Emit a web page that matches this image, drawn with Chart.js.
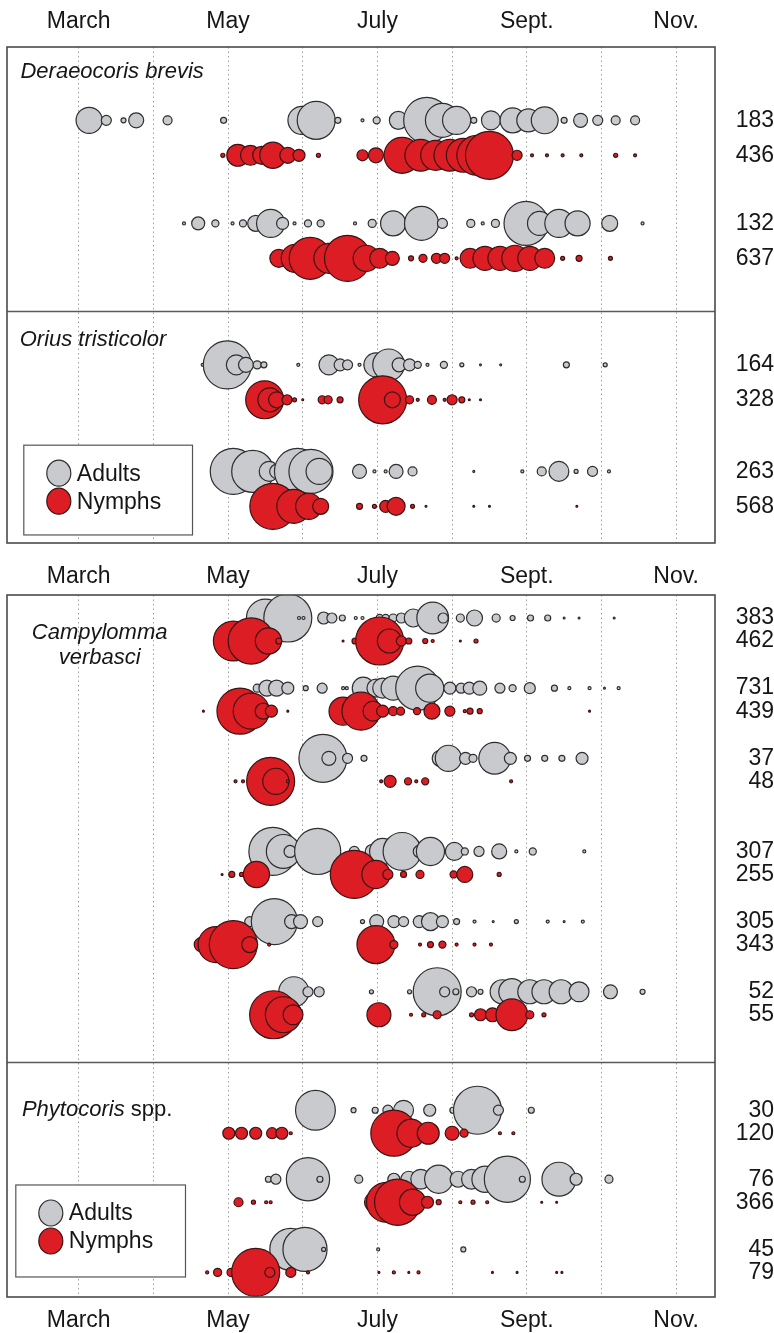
<!DOCTYPE html>
<html>
<head>
<meta charset="utf-8">
<script src="https://cdn.jsdelivr.net/npm/chart.js@4.4.1/dist/chart.umd.min.js"></script>
<style>
  html, body { margin: 0; padding: 0; background: #ffffff; }
  canvas { position: absolute; left: 0; }
</style>
</head>
<body>
<canvas id="panelTop" width="774" height="550" style="top:0px"></canvas>
<canvas id="panelBottom" width="774" height="783" style="top:550px"></canvas>
<script>
// ---- axis labels -------------------------------------------------------
// x values are months (3 = 1 March ... 11 = 1 November)
const monthTicks = [3, 4, 5, 6, 7, 8, 9, 10, 11];
const monthLabels = { 3: 'March', 5: 'May', 7: 'July', 9: 'Sept.', 11: 'Nov.' };

// ---- season totals (insects counted per orchard row) -----------------
const deraeocorisTotals = [183, 436, 132, 637];
const oriusTotals = [164, 328, 263, 568];
const campylommaTotals = [383, 462, 731, 439, 37, 48, 307, 255, 305, 343, 52, 55];
const phytocorisTotals = [30, 120, 76, 366, 45, 79];

// ---- samples: [month, relative abundance] -----------------------------
const deraeocorisAdults1 = [[3.14,19],[3.37,2.8],[3.6,0.7],[3.77,6.25],[4.19,2.25],[4.94,1],[5.99,22],[6.18,40],[6.47,1],[6.8,0.25],[6.99,1.4],[7.28,9],[7.66,59],[7.87,32],[8.06,22],[8.29,1],[8.52,10],[8.81,17.4],[9.02,14.7],[9.24,20],[9.5,1],[9.72,5.4],[9.95,2.8],[10.19,2.25],[10.45,2.25]];
const deraeocorisNymphs1 = [[4.93,0.45],[5.13,13.4],[5.3,11],[5.45,9],[5.6,19],[5.8,7.1],[5.95,4],[6.21,0.45],[6.8,3.4],[6.98,6.25],[7.33,36],[7.58,28],[7.78,25],[7.97,28],[8.15,32],[8.33,44],[8.5,64],[8.87,2.8],[9.07,0.25],[9.27,0.25],[9.48,0.25],[9.73,0.25],[10.19,0.45],[10.45,0.25]];
const deraeocorisAdults2 = [[4.41,0.25],[4.6,4.7],[4.83,1.4],[5.06,0.25],[5.2,1.4],[5.37,7.1],[5.57,22],[5.73,4],[5.89,0.25],[6.07,1.4],[6.24,1.4],[6.7,0.25],[6.93,1.8],[7.21,17.4],[7.59,32],[7.87,2.8],[8.25,1.8],[8.41,0.25],[8.58,1.8],[8.99,54],[9.17,16],[9.43,22],[9.68,17.4],[10.11,7.1],[10.55,0.25]];
const deraeocorisNymphs2 = [[5.68,9],[5.9,22],[6.1,49],[6.35,25],[6.6,59],[6.85,19],[7.03,11],[7.2,5.4],[7.45,0.7],[7.61,1.8],[7.79,2.8],[7.9,2.8],[8.06,0.25],[8.24,11],[8.44,16],[8.64,16],[8.84,19],[9.04,16],[9.24,11],[9.48,0.45],[9.7,1],[10.12,0.45]];

const oriusAdults1 = [[4.66,0.25],[4.99,64],[5.11,11],[5.24,6.25],[5.39,1.8],[5.48,1],[5.94,0.25],[6.35,11],[6.5,4],[6.6,2.8],[6.76,0.25],[6.84,0.25],[6.98,16],[7.15,28],[7.29,5.4],[7.43,4],[7.54,1.4],[7.67,0.25],[7.89,1.4],[8.13,0.45],[8.38,0.1],[8.65,0.1],[9.53,1],[10.05,0.45]];
const oriusNymphs1 = [[5.49,40],[5.56,16],[5.65,7.1],[5.79,2.8],[5.89,0.45],[6.0,0.1],[6.26,1.8],[6.34,1.8],[6.5,1],[7.07,64],[7.2,7.1],[7.43,1.8],[7.54,0.25],[7.73,2.25],[7.9,0.25],[8.0,2.8],[8.13,1],[8.23,0.1],[8.38,0.1]];
const oriusAdults2 = [[5.07,59],[5.33,49],[5.55,11],[5.65,5.4],[5.93,59],[6.11,54],[6.22,19],[6.76,5.4],[6.96,0.25],[7.11,0.25],[7.25,5.4],[7.47,2.25],[8.29,0.1],[8.94,0.25],[9.2,2.25],[9.43,11],[9.66,0.45],[9.88,2.8],[10.1,0.25]];
const oriusNymphs2 = [[5.6,59],[5.88,32],[6.08,19],[6.24,7.1],[6.76,1],[6.96,0.45],[7.11,4],[7.25,9],[7.47,0.45],[7.65,0.1],[8.29,0.1],[8.5,0.1],[9.67,0.1]];

const campylommaAdults1 = [[5.5,40],[5.8,64],[5.95,0.25],[6.01,0.25],[6.28,4],[6.39,2.8],[6.53,1],[6.71,0.25],[6.8,0.25],[7.03,1.4],[7.11,1.4],[7.21,1.8],[7.32,2.8],[7.48,9],[7.74,28],[7.88,2.8],[8.11,1.8],[8.3,7.1],[8.59,1.8],[8.81,0.7],[9.05,1],[9.28,1],[9.5,0.1],[9.7,0.1],[10.17,0.1]];
const campylommaNymphs1 = [[5.07,44],[5.31,59],[5.54,19],[5.68,1],[6.54,0.1],[6.7,1],[7.03,64],[7.16,16],[7.32,2.8],[7.42,1],[7.64,0.7],[7.74,0.25],[8.11,0.1],[8.32,0.45]];
const campylommaAdults2 = [[5.39,1.8],[5.52,7.1],[5.65,7.1],[5.8,4],[6.04,0.7],[6.26,2.8],[6.54,0.25],[6.59,0.25],[6.81,13.4],[6.98,9],[7.07,11],[7.21,16],[7.54,54],[7.7,22],[7.97,4],[8.12,2.8],[8.23,4],[8.37,5.4],[8.64,2.8],[8.81,1.4],[9.04,3.4],[9.37,1],[9.57,0.25],[9.84,0.25],[10.04,0.1],[10.23,0.25]];
const campylommaNymphs2 = [[4.67,0.1],[4.89,0.1],[5.16,59],[5.31,36],[5.47,7.1],[5.58,4],[5.8,0.1],[6.54,22],[6.78,40],[6.94,11],[7.07,4],[7.21,2.25],[7.31,1.8],[7.53,1.4],[7.73,7.1],[7.97,2.8],[8.17,0.25],[8.24,1],[8.37,0.7],[9.84,0.1]];
const campylommaAdults3 = [[6.27,64],[6.35,5.4],[6.6,2.8],[6.82,1],[7.84,7.1],[7.95,19],[8.18,4],[8.28,1.8],[8.57,28],[8.78,4],[9.01,1],[9.24,1],[9.47,1],[9.74,4]];
const campylommaNymphs3 = [[5.1,0.25],[5.2,0.25],[5.57,64],[5.64,19],[5.8,0.25],[7.05,0.25],[7.17,4],[7.41,1.4],[7.52,0.25],[7.64,1.4],[8.79,0.25]];
const campylommaAdults4 = [[5.6,64],[5.74,32],[5.83,4],[6.2,59],[6.69,2.8],[6.93,5.4],[7.07,19],[7.33,40],[7.56,4],[7.71,22],[8.03,9],[8.17,1.4],[8.36,2.8],[8.63,6.25],[8.86,0.25],[9.08,1.4],[9.77,0.25]];
const campylommaNymphs4 = [[4.92,0.1],[5.05,1],[5.18,0.45],[5.38,19],[6.69,64],[6.98,22],[7.14,2.8],[7.35,1],[7.57,1.8],[8.02,1.4],[8.17,7.1],[8.63,0.45]];
const campylommaAdults5 = [[5.29,2.8],[5.62,59],[5.85,5.4],[5.97,5.4],[6.2,2.8],[6.8,0.45],[6.99,5.4],[7.22,4],[7.35,2.8],[7.56,4],[7.71,9],[7.87,4],[8.06,1],[8.3,0.25],[8.55,0.1],[8.86,0.45],[9.28,0.25],[9.5,0.1],[9.75,0.25]];
const campylommaNymphs5 = [[4.64,5.4],[4.84,36],[5.07,64],[5.29,7.1],[5.55,0.25],[6.98,40],[7.22,1.8],[7.57,0.25],[7.71,1],[7.87,1.4],[8.06,0.25],[8.3,0.25],[8.52,0.25]];
const campylommaAdults6 = [[5.88,25],[6.07,2.8],[6.22,2.8],[6.92,0.45],[7.43,0.45],[7.8,64],[7.9,2.8],[8.05,1],[8.26,2.8],[8.38,0.7],[8.67,16],[8.8,19],[9.04,16],[9.23,16],[9.46,16],[9.7,11],[10.12,5.4],[10.55,0.7]];
const campylommaNymphs6 = [[5.61,64],[5.74,36],[5.87,11],[7.02,16],[7.45,0.25],[7.62,0.45],[7.8,1.8],[8.26,0.45],[8.38,4],[8.54,5.4],[8.8,28],[9.04,1.8],[9.23,0.45]];

const phytocorisAdults1 = [[6.17,44],[6.68,0.7],[6.97,1],[7.14,2.8],[7.35,11],[7.7,4],[8.01,1],[8.34,64],[8.62,2.8],[9.06,1]];
const phytocorisNymphs1 = [[5.01,4],[5.18,4],[5.37,4],[5.59,3.4],[5.72,4],[5.84,0.25],[7.22,59],[7.45,22],[7.68,13.4],[8.0,5.4],[8.16,1.8],[8.64,0.25],[8.82,0.25]];
const phytocorisAdults2 = [[5.54,1],[5.64,2.8],[5.97,16],[6.07,52],[6.23,1],[6.75,1.8],[7.22,4],[7.42,7.1],[7.58,11],[7.82,22],[8.08,7.1],[8.26,11],[8.44,19],[8.74,59],[8.94,1],[9.43,32],[9.66,4],[10.1,1.8]];
const phytocorisNymphs2 = [[5.14,2.25],[5.34,0.45],[5.51,0.25],[5.57,0.25],[6.96,11],[7.12,44],[7.27,59],[7.47,19],[7.67,4],[7.82,0.7],[8.11,0.25],[8.28,0.45],[8.47,0.25],[9.2,0.1],[9.4,0.1]];
const phytocorisAdults3 = [[5.84,49],[6.03,54],[6.28,0.45],[7.01,0.25],[8.15,0.7]];
const phytocorisNymphs3 = [[4.72,0.25],[4.86,1.8],[5.04,1.8],[5.37,64],[5.56,2.8],[5.84,2.8],[6.07,0.25],[7.02,0.1],[7.22,0.25],[7.42,0.1],[7.55,0.25],[8.54,0.1],[8.87,0.1],[9.4,0.1],[9.47,0.1]];

// ---- layout --------------------------------------------------------------
// vertical slot of every series (adults / nymphs alternate), in row units
const topRowPos = [2.1, 3.1, 5.05, 6.05, 9.1, 10.1, 12.15, 13.15];
const bottomRowPos = [1, 2, 4.05, 5.05, 7.1, 8.1, 11.15, 12.15, 14.2, 15.2, 17.25, 18.25,
                      22.4, 23.4, 25.4, 26.4, 28.45, 29.45];

const FONT = '"Liberation Sans", Arial, Helvetica, sans-serif';
const INK = '#161616';
const GRAY_FILL = 'rgb(201,202,206)';
const RED_FILL = 'rgb(221,29,36)';
const GRAY_EDGE = '#2e2e2e';
const RED_EDGE = '#3a1414';
const X_MIN = 2.04, X_MAX = 11.52;
const BUBBLE_K = 3; // radius = K * sqrt(abundance)

function bubbleSets(series, rowPos) {
  const adults = [], nymphs = [];
  series.forEach((s, i) => {
    const target = i % 2 === 0 ? adults : nymphs;
    s.forEach(([m, v]) => target.push({ x: m, y: rowPos[i], r: BUBBLE_K * Math.sqrt(v) }));
  });
  // first dataset is painted last, so nymphs sit over adults
  return [
    { label: 'Nymphs', data: nymphs, backgroundColor: RED_FILL, borderColor: RED_EDGE, borderWidth: 1.2 },
    { label: 'Adults', data: adults, backgroundColor: GRAY_FILL, borderColor: GRAY_EDGE, borderWidth: 1.2 }
  ];
}

// box, dividers, species names and the inset legend
const panelDecor = {
  id: 'panelDecor',
  beforeDatasetsDraw(chart, args, o) {
    const { ctx, chartArea: a, scales: { y } } = chart;
    ctx.save();
    ctx.strokeStyle = '#5a5a5a';
    ctx.lineWidth = 1.4;
    (o.dividers || []).forEach(v => {
      const py = Math.round(y.getPixelForValue(v)) + 0.5;
      ctx.beginPath(); ctx.moveTo(a.left, py); ctx.lineTo(a.right, py); ctx.stroke();
    });
    ctx.restore();
  },
  afterDatasetsDraw(chart, args, o) {
    const { ctx, chartArea: a, scales: { x, y } } = chart;
    ctx.save();
    ctx.strokeStyle = '#4a4a4a';
    ctx.lineWidth = 1.6;
    ctx.strokeRect(a.left, a.top, a.right - a.left, a.bottom - a.top);

    ctx.fillStyle = INK;
    ctx.textBaseline = 'middle';
    (o.names || []).forEach(n => {
      const widths = n.parts.map(([t, it]) => {
        ctx.font = (it ? 'italic ' : '') + '22px ' + FONT;
        return ctx.measureText(t).width;
      });
      const total = widths.reduce((s, w) => s + w, 0);
      let px = x.getPixelForValue(n.x) - (n.align === 'center' ? total / 2 : 0);
      const py = y.getPixelForValue(n.y);
      n.parts.forEach(([t, it], i) => {
        ctx.font = (it ? 'italic ' : '') + '22px ' + FONT;
        ctx.textAlign = 'left';
        ctx.fillText(t, px, py);
        px += widths[i];
      });
    });

    const L = o.legend;
    if (L) {
      const lx = x.getPixelForValue(L.x0), rx = x.getPixelForValue(L.x1);
      const ty = y.getPixelForValue(L.y0), by = y.getPixelForValue(L.y1);
      ctx.fillStyle = '#ffffff';
      ctx.fillRect(lx, ty, rx - lx, by - ty);
      ctx.strokeStyle = '#555555';
      ctx.lineWidth = 1.2;
      ctx.strokeRect(lx, ty, rx - lx, by - ty);
      const items = [['Adults', GRAY_FILL, GRAY_EDGE], ['Nymphs', RED_FILL, RED_EDGE]];
      items.forEach(([label, fill, edge], i) => {
        const cy = ty + 28 + i * 28;
        ctx.beginPath();
        ctx.ellipse(lx + 35, cy, 12, 13, 0, 0, Math.PI * 2);
        ctx.fillStyle = fill; ctx.fill();
        ctx.strokeStyle = edge; ctx.lineWidth = 1.2; ctx.stroke();
        ctx.fillStyle = INK;
        ctx.font = '23px ' + FONT;
        ctx.textAlign = 'left';
        ctx.fillText(label, lx + 53, cy + 1);
      });
    }
    ctx.restore();
  }
};

function monthAxis(position, height, padding, showGrid) {
  return {
    type: 'linear', position, axis: 'x',
    min: X_MIN, max: X_MAX,
    afterBuildTicks: s => { s.ticks = monthTicks.map(v => ({ value: v })); },
    afterFit: s => { s.height = height; s.paddingLeft = 0; s.paddingRight = 0; },
    ticks: {
      autoSkip: false, maxRotation: 0, padding,
      color: INK, font: { family: FONT, size: 23 },
      callback: v => monthLabels[v] || ''
    },
    grid: { display: showGrid, drawTicks: false, color: '#a0a0a0', lineWidth: 1 },
    border: { display: false, dash: [1.5, 3] }
  };
}

function totalsAxis(max, rowPos, totals) {
  return {
    type: 'linear', position: 'right', reverse: true,
    min: 0, max,
    afterBuildTicks: s => { s.ticks = rowPos.map(v => ({ value: v })); },
    afterFit: s => { s.width = 59; s.paddingTop = 0; s.paddingBottom = 0; },
    ticks: {
      autoSkip: false, padding: 18, crossAlign: 'far',
      color: INK, font: { family: FONT, size: 23 },
      callback: (v, i) => totals[i]
    },
    grid: { display: false },
    border: { display: false }
  };
}

const common = {
  responsive: false, animation: false, events: [],
  plugins: { legend: { display: false }, tooltip: { enabled: false } }
};

new Chart(document.getElementById('panelTop'), {
  type: 'bubble',
  data: {
    datasets: bubbleSets(
      [deraeocorisAdults1, deraeocorisNymphs1, deraeocorisAdults2, deraeocorisNymphs2,
       oriusAdults1, oriusNymphs1, oriusAdults2, oriusNymphs2], topRowPos)
  },
  options: {
    ...common,
    layout: { autoPadding: false, padding: { left: 7, right: 0, top: 0, bottom: 7 } },
    scales: {
      x: monthAxis('top', 47, 12, true),
      y: totalsAxis(14.2, topRowPos, deraeocorisTotals.concat(oriusTotals))
    },
    plugins: {
      ...common.plugins,
      panelDecor: {
        dividers: [7.55],
        names: [
          { parts: [['Deraeocoris brevis', 1]], x: 2.22, y: 0.7 },
          { parts: [['Orius tristicolor', 1]], x: 2.21, y: 8.39 }
        ],
        legend: { x0: 2.265, x1: 4.524, y0: 11.4, y1: 13.97 }
      }
    }
  },
  plugins: [panelDecor]
});

new Chart(document.getElementById('panelBottom'), {
  type: 'bubble',
  data: {
    datasets: bubbleSets(
      [campylommaAdults1, campylommaNymphs1, campylommaAdults2, campylommaNymphs2,
       campylommaAdults3, campylommaNymphs3, campylommaAdults4, campylommaNymphs4,
       campylommaAdults5, campylommaNymphs5, campylommaAdults6, campylommaNymphs6,
       phytocorisAdults1, phytocorisNymphs1, phytocorisAdults2, phytocorisNymphs2,
       phytocorisAdults3, phytocorisNymphs3], bottomRowPos)
  },
  options: {
    ...common,
    layout: { autoPadding: false, padding: { left: 7, right: 0, top: 0, bottom: 0 } },
    scales: {
      x: monthAxis('top', 45, 5, true),
      x2: monthAxis('bottom', 36, 10, false),
      y: totalsAxis(30.52, bottomRowPos, campylommaTotals.concat(phytocorisTotals))
    },
    plugins: {
      ...common.plugins,
      panelDecor: {
        dividers: [20.3],
        names: [
          { parts: [['Campylomma', 1]], x: 3.28, y: 1.65, align: 'center' },
          { parts: [['verbasci', 1]], x: 3.28, y: 2.74, align: 'center' },
          { parts: [['Phytocoris', 1], [' spp.', 0]], x: 2.24, y: 22.4 }
        ],
        legend: { x0: 2.158, x1: 4.43, y0: 25.65, y1: 29.65 }
      }
    }
  },
  plugins: [panelDecor]
});
</script>
</body>
</html>
